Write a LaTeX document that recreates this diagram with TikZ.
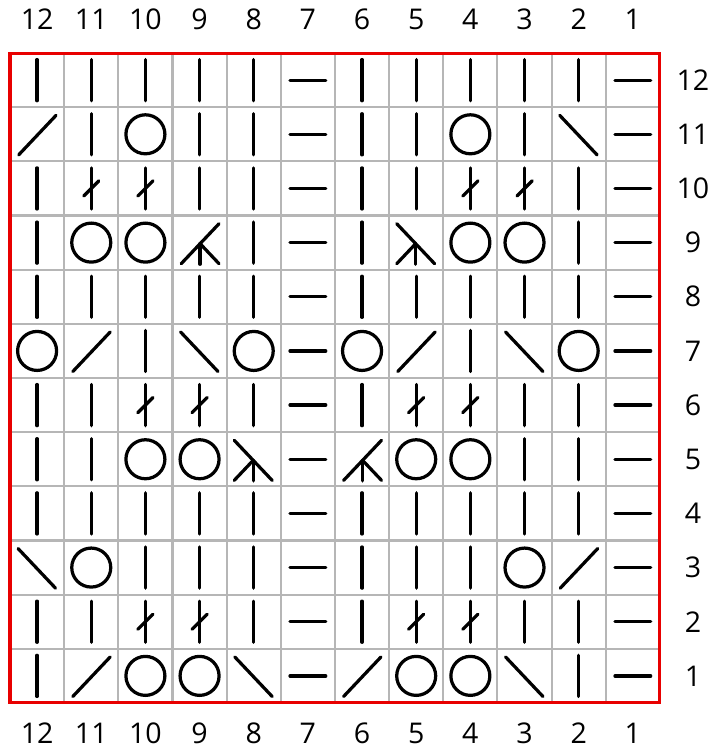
\documentclass[tikz,border=0pt]{standalone}
\usepackage{fontspec}
\setmainfont{Open Sans}
\usetikzlibrary{calc}
\definecolor{chartred}{RGB}{232,0,0}
\definecolor{chartgray}{RGB}{182,182,182}
\definecolor{chartink}{RGB}{0,0,0}
\tikzset{
  gridline/.style={draw=chartgray, line width=1.1pt},
  border/.style={draw=chartred, line width=1.6pt},
  sym/.style={draw=chartink, line width=1.7pt, line cap=round},
  numlabel/.style={font=\fontsize{15}{18}\selectfont, inner sep=0pt},
  % knit, purl, yarn over
  stK/.pic={\draw[sym] (0,-0.38) -- (0,0.38);},
  stP/.pic={\draw[sym] (-0.33,0) -- (0.33,0);},
  stO/.pic={\draw[sym] (0,0) circle (0.36);},
  % decreases
  stL/.pic={\draw[sym] (-0.34,-0.38) -- (0.35,0.35);},
  stR/.pic={\draw[sym] (-0.35,0.35) -- (0.34,-0.38);},
  stA/.pic={\draw[sym] (-0.34,-0.39) -- (0.36,0.35);
            \draw[sym] (0.01,-0.02) -- (0.01,-0.40);
            \draw[sym] (0.01,-0.02) -- (0.36,-0.39);},
  stB/.pic={\draw[sym] (0.34,-0.39) -- (-0.36,0.35);
            \draw[sym] (-0.01,-0.02) -- (-0.01,-0.40);
            \draw[sym] (-0.01,-0.02) -- (-0.36,-0.39);},
  % twisted knit
  stT/.pic={\draw[sym] (0,-0.38) -- (0,0.38);
            \draw[sym] (-0.14,-0.14) -- (0.14,0.14);}
}

\begin{document}
\begin{tikzpicture}[x=1cm, y=1cm]
  \useasboundingbox (-0.185,-0.85) rectangle (12.906,12.98);

  % Grid and frame
  \draw[gridline] (0,0) grid (12,12);
  \draw[border] (0,0) rectangle (12,12);

  % Stitch symbols, columns 12 to 1 from left
  \foreach \row/\codes in {
      12/{K,K,K,K,K,P,K,K,K,K,K,P},
      11/{L,K,O,K,K,P,K,K,O,K,R,P},
      10/{K,T,T,K,K,P,K,K,T,T,K,P},
      9/{K,O,O,A,K,P,K,B,O,O,K,P},
      8/{K,K,K,K,K,P,K,K,K,K,K,P},
      7/{O,L,K,R,O,P,O,L,K,R,O,P},
      6/{K,K,T,T,K,P,K,T,T,K,K,P},
      5/{K,K,O,O,B,P,A,O,O,K,K,P},
      4/{K,K,K,K,K,P,K,K,K,K,K,P},
      3/{R,O,K,K,K,P,K,K,K,O,L,P},
      2/{K,K,T,T,K,P,K,T,T,K,K,P},
      1/{K,L,O,O,R,P,L,O,O,R,K,P}} {
    \foreach \s [count=\i] in \codes {
      \pic at (\i-0.5,\row-0.5) {st\s};
    }
  }

  % Column numbers
  \foreach \n in {1,...,12} {
    \node[numlabel] (top\n) at (12.5-\n,12.62) {\n};
    \node[numlabel] (bot\n) at (12.5-\n,-0.56) {\n};
  }

  % Row numbers
  \foreach \n in {1,...,12} {
    \node[numlabel] (row\n) at (12.61,\n-0.5) {\n};
  }
\end{tikzpicture}
\end{document}
